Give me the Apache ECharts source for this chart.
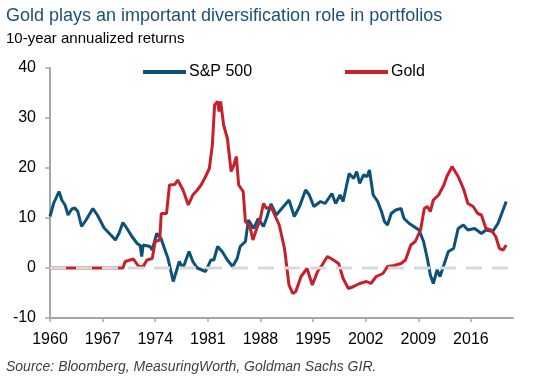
<!DOCTYPE html>
<html><head><meta charset="utf-8">
<script src="https://cdn.jsdelivr.net/npm/echarts@6/dist/echarts.min.js"></script>
<style>html,body{margin:0;padding:0;background:#fff}#c{width:554px;height:380px}</style>
</head><body><div id="c"></div>
<script>
var titleText = 'Gold plays an important diversification role in portfolios';
var subtitleText = '10-year annualized returns';
var sourceText = 'Source: Bloomberg, MeasuringWorth, Goldman Sachs GIR.';
var seriesNames = ['S&P 500', 'Gold'];
var xTicks = [1960, 1967, 1974, 1981, 1988, 1995, 2002, 2009, 2016];
var yTicks = [-10, 0, 10, 20, 30, 40];

var spYears = [1960.0,1960.5,1961.2,1961.6,1962.0,1962.4,1962.9,1963.3,1963.7,1964.2,1964.8,1965.7,1966.3,1967.2,1968.1,1968.7,1969.2,1969.7,1970.2,1970.9,1971.6,1972.0,1972.2,1972.4,1973.3,1973.6,1974.2,1974.8,1975.0,1975.7,1976.4,1976.8,1977.2,1977.7,1978.5,1979.0,1979.6,1980.7,1981.4,1981.8,1982.3,1982.9,1983.6,1984.3,1984.9,1985.3,1986.0,1986.4,1987.1,1987.7,1988.4,1988.8,1989.4,1990.1,1990.5,1991.8,1992.5,1993.2,1994.0,1994.5,1995.1,1996.0,1996.6,1997.5,1998.0,1998.6,1999.0,1999.8,2000.4,2000.8,2001.2,2001.7,2002.2,2002.5,2003.0,2003.6,2004.1,2004.5,2004.9,2005.4,2006.0,2006.7,2007.1,2007.8,2008.4,2009.1,2009.7,2010.2,2010.6,2011.0,2011.5,2011.9,2012.4,2013.0,2013.7,2014.3,2015.0,2015.6,2016.5,2017.4,2018.0,2018.9,2019.6,2020.2,2020.7];
var spValues = [10.3,13.0,15.3,13.5,12.6,10.6,11.8,12.0,11.3,8.3,9.6,11.9,10.6,8.0,6.6,5.6,7.0,9.1,8.0,6.3,4.9,4.5,2.3,4.6,4.3,3.6,6.9,5.8,4.9,1.9,-2.7,-0.7,1.3,0.0,3.3,1.3,0.0,-0.7,1.6,1.6,4.3,3.3,1.6,0.3,1.9,4.3,5.3,9.6,7.9,9.9,8.3,9.9,12.8,10.6,11.3,13.6,10.3,12.3,15.6,14.6,12.3,13.3,12.9,14.9,12.9,14.6,13.3,18.9,17.9,19.3,16.9,18.6,18.3,19.6,14.6,13.3,11.3,9.3,8.6,10.9,11.6,11.9,9.9,8.9,8.3,7.6,5.3,1.9,-1.4,-3.1,-0.4,-1.7,0.6,3.3,3.9,7.9,8.6,7.6,7.9,6.9,7.6,7.3,8.9,11.3,13.3];

var goldYears = [1960.0,1969.7,1970.0,1971.1,1971.8,1972.4,1972.9,1973.6,1974.0,1974.6,1974.8,1975.5,1975.9,1976.6,1977.0,1977.7,1978.4,1979.0,1979.6,1980.1,1980.7,1981.2,1981.6,1981.9,1982.3,1982.5,1982.7,1983.1,1983.6,1983.8,1984.1,1984.4,1984.8,1985.1,1985.7,1986.0,1986.6,1987.0,1987.5,1987.9,1988.4,1988.8,1989.4,1989.9,1990.5,1991.2,1991.8,1992.3,1992.7,1993.4,1994.2,1994.9,1995.6,1996.2,1996.9,1997.7,1998.4,1999.0,1999.7,2000.4,2001.2,2002.1,2002.7,2003.4,2004.3,2004.9,2005.8,2006.7,2007.3,2008.0,2008.6,2009.3,2009.8,2010.2,2010.6,2011.0,2011.7,2012.4,2012.8,2013.5,2013.9,2014.3,2015.0,2015.6,2016.3,2016.9,2017.4,2018.0,2018.7,2019.3,2019.8,2020.3,2020.7];
var goldValues = [0,0,1.3,1.8,0.3,0.3,1.6,1.9,5.3,5.6,10.9,10.9,16.6,16.7,17.6,15.6,12.6,14.6,15.6,16.6,18.3,19.9,24.6,32.6,33.3,31.3,33.3,28.6,25.9,26.3,19.3,20.3,22.3,16.6,15.3,9.3,8.3,5.6,7.9,9.3,12.9,11.9,12.3,10.6,8.6,3.9,-3.4,-5.1,-4.7,-1.7,-0.1,-3.4,-0.7,0.6,2.3,1.6,0.9,-2.1,-4.1,-3.7,-3.1,-2.7,-3.1,-1.7,-1.1,0.3,0.5,0.9,1.6,4.6,5.3,7.6,11.9,12.3,11.3,13.6,14.6,16.6,18.3,20.3,19.3,18.3,15.9,12.9,12.3,10.9,10.6,7.9,7.6,6.3,3.9,3.6,4.6];

var zeroLineYears = [1960, 2021.6];
var zeroLineValues = [0, 0];

function zip(xs, ys) { return xs.map(function (x, i) { return [x, ys[i]]; }); }

var FONT = '"Liberation Sans", Arial, sans-serif';
var chart = echarts.init(document.getElementById('c'), null, {renderer: 'canvas'});
chart.setOption({
  animation: false,
  backgroundColor: '#ffffff',
  title: [
    {text: titleText, left: 6, top: 7, padding: 0, textStyle: {fontFamily: FONT, fontSize: 18, fontWeight: 'normal', color: '#1d4f7c'}},
    {text: subtitleText, left: 6, top: 31, padding: 0, textStyle: {fontFamily: FONT, fontSize: 15, fontWeight: 'normal', color: '#000'}},
    {text: sourceText, left: 6, top: 360, padding: 0, textStyle: {fontFamily: FONT, fontSize: 14, fontStyle: 'italic', fontWeight: 'normal', color: '#404040'}}
  ],
  legend: [
    {data: [seriesNames[0]], left: 143, top: 64, padding: 0, icon: 'rect', itemWidth: 43, itemHeight: 4, itemGap: 0,
     textStyle: {fontFamily: FONT, fontSize: 16, color: '#000', padding: [0, 0, 0, -2]}},
    {data: [seriesNames[1]], left: 345, top: 64, padding: 0, icon: 'rect', itemWidth: 43, itemHeight: 4, itemGap: 0,
     textStyle: {fontFamily: FONT, fontSize: 16, color: '#000', padding: [0, 0, 0, -2]}}
  ],
  grid: {left: 50, right: 41, top: 68, bottom: 62, containLabel: false},
  xAxis: {
    type: 'value', min: 1960, max: 2021.6, interval: 7,
    axisLine: {onZero: false, lineStyle: {color: '#a6a6a6', width: 2}},
    axisTick: {show: true, length: 4, lineStyle: {color: '#a6a6a6', width: 1.5}},
    splitLine: {show: false},
    axisLabel: {
      showMaxLabel: false, margin: 14, fontFamily: FONT, fontSize: 16, color: '#000',
      formatter: function (v) { return xTicks.indexOf(v) >= 0 ? String(v) : ''; }
    }
  },
  yAxis: {
    type: 'value', min: -10, max: 40, interval: 10,
    axisLine: {show: true, lineStyle: {color: '#a6a6a6', width: 2}},
    axisTick: {show: true, length: 5, lineStyle: {color: '#a6a6a6', width: 1.5}},
    splitLine: {show: false},
    axisLabel: {margin: 14, fontFamily: FONT, fontSize: 16, color: '#000',
      formatter: function (v) { return yTicks.indexOf(v) >= 0 ? String(v) : ''; }}
  },
  series: [
    {name: seriesNames[0], type: 'line', data: zip(spYears, spValues), showSymbol: false, symbol: 'none',
     lineStyle: {color: '#0b5179', width: 3}, itemStyle: {color: '#0b5179'}, z: 3},
    {name: seriesNames[1], type: 'line', data: zip(goldYears, goldValues), showSymbol: false, symbol: 'none',
     lineStyle: {color: '#c8202b', width: 3}, itemStyle: {color: '#c8202b'}, z: 4},
    {name: 'zero', type: 'line', data: zip(zeroLineYears, zeroLineValues), showSymbol: false, symbol: 'none',
     lineStyle: {color: '#d9d9d9', width: 3, type: [16, 10]}, z: 5, silent: true}
  ]
});
</script></body></html>
